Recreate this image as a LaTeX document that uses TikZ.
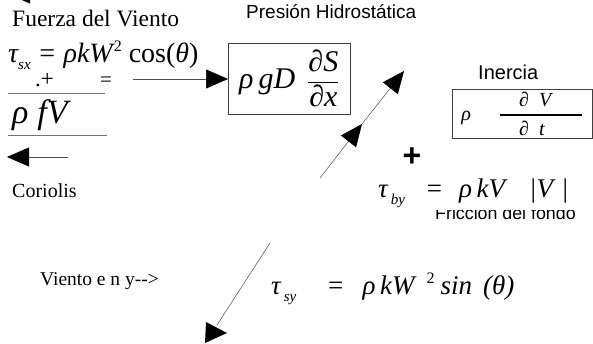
\documentclass[tikz,border=0pt]{standalone}
\usepackage{amsmath}
\usepackage{fontspec}
\setmainfont{Liberation Serif}
\setsansfont{Liberation Sans}
\usetikzlibrary{arrows.meta,positioning}
\newcommand{\lowsub}[1]{\raisebox{-7pt}{\fontsize{15}{15}\selectfont\itshape #1}}
\newcommand{\upsup}[1]{\raisebox{11pt}{\fontsize{16}{16}\selectfont\upshape #1}}
\tikzset{
  seriftext/.style={inner sep=0pt,anchor=base west,font=\fontsize{20}{24}\selectfont},
  sanstext/.style={inner sep=0pt,anchor=base west,font=\sffamily\fontsize{19}{22}\selectfont},
  formula/.style={inner sep=0pt,anchor=base west,font=\itshape\fontsize{27}{29}\selectfont},
  termbox/.style={draw=black!75,line width=0.7pt,inner sep=2pt,anchor=north west},
  ruleline/.style={draw=black!55,line width=0.6pt},
  thinline/.style={draw=black!70,line width=0.5pt},
  bigarrow/.style={-{Triangle[length=22pt,width=19pt,color=black]},
    line width=0.5pt,draw=black!70},
}
\begin{document}
\begin{tikzpicture}[x=1pt,y=-1pt]
  \useasboundingbox (0,0) rectangle (593,344);
  % left column
  \coordinate (toptail) at (68,-6);
  \coordinate (tophead) at (8,-6);
  \draw[bigarrow] (toptail) -- (tophead);
  \node[seriftext,font=\fontsize{23.5}{26}\selectfont] (fuerza) at (12,27) {Fuerza del Viento};
  \node[formula,font=\itshape\fontsize{28}{30}\selectfont] (tausx) at (8,63)
    {τ\lowsub{sx} = ρkW\hspace{1pt}\upsup{2} {\upshape cos(}θ{\upshape )}};
  \node[seriftext,font=\fontsize{23}{23}\selectfont] (dotplus) at (35,87) {.+};
  \node[seriftext,font=\fontsize{21}{21}\selectfont] (eqx) at (100,87) {=};
  \draw[ruleline] (8,93) -- (105,93);
  \node[formula,font=\itshape\fontsize{34}{36}\selectfont] (rhofv) at (12,124) {ρ\hspace{9pt}fV};
  \draw[ruleline] (8,135) -- (107,135);
  \coordinate (cortail) at (68,157);
  \coordinate (corhead) at (7,157);
  \draw[bigarrow] (cortail) -- (corhead);
  \node[seriftext] (coriolis) at (12,198) {Coriolis};
  \node[seriftext,font=\fontsize{19.5}{22}\selectfont] (vientoy) at (40,285) {Viento e n y-{}-{}>};
  % hydrostatic pressure
  \node[sanstext] (presion) at (246,19) {Presión Hidrostática};
  \node[termbox,minimum width=122pt,minimum height=71pt,
    font=\itshape\fontsize{30}{32}\selectfont] (hidro) at (228,43)
    {ρ\,gD\hspace{12pt}$\genfrac{}{}{0.8pt}{0}{\mbox{∂S}}{\mbox{∂x}}$};
  \coordinate (windtail) at (133,79);
  \draw[bigarrow] (windtail) -- (windtail -| hidro.west);
  % diagonal arrows
  \coordinate (diagfoot) at (320,178);
  \coordinate (diagmid) at (362,124);
  \coordinate (diagtop) at (404,71);
  \draw[bigarrow] (diagfoot) -- (diagmid);
  \draw[bigarrow] (diagmid) -- (diagtop);
  \coordinate (lowtop) at (270,243);
  \coordinate (lowfoot) at (217,325);
  \draw[thinline] (lowtop) -- (lowfoot);
  \fill (206,322) -- (205,343) -- (227,333) -- cycle;
  % inertia
  \node[sanstext,font=\sffamily\fontsize{20}{22}\selectfont] (inercia) at (478,80) {Inercia};
  \node[termbox,minimum width=140pt,minimum height=49pt,
    font=\itshape\fontsize{20}{22}\selectfont] (inbox) at (452,89)
    {ρ\hspace{28pt}$\genfrac{}{}{1.8pt}{0}{\mbox{\makebox[82pt][l]{\hspace{19pt}∂\hspace{10pt}V}}}{\mbox{\makebox[82pt][l]{\hspace{19pt}∂\hspace{10pt}t}}}$};
  \node[inner sep=0pt,font=\sffamily\bfseries\fontsize{32}{32}\selectfont] (plus) at (412,157) {+};
  % bottom friction
  \node[formula] (tauby) at (378,198)
    {τ\hspace{3pt}\lowsub{by}\hspace{20pt}=\hspace{16pt}ρ\,kV\hspace{24pt}|V\hspace{8pt}|};
  \begin{scope}
    \clip (420,211) rectangle (593,226);
    \node[sanstext,font=\sffamily\fontsize{17.8}{20}\selectfont] (friccion) at (435,220) {Fricción del fondo};
  \end{scope}
  % wind in y
  \node[formula] (tausy) at (271,294)
    {τ\hspace{3pt}\lowsub{sy}\hspace{30pt}=\hspace{18pt}ρ\,kW\hspace{12pt}\upsup{2}\hspace{6pt}sin\hspace{11pt}(θ)};
\end{tikzpicture}
\end{document}
